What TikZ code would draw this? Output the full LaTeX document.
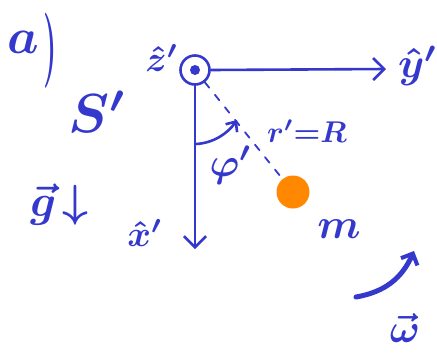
\documentclass[tikz,border=0pt]{standalone}
\usepackage{graphicx}
\usetikzlibrary{arrows.meta}
\definecolor{ink}{RGB}{52,56,204}
\definecolor{massor}{RGB}{255,136,0}
\newcommand\hw[2]{\scalebox{#1}{#2}}
\tikzset{
  pen/.style={draw=ink,line width=2.6pt,line cap=round,line join=round},
  axis/.style={pen,-{Straight Barb[length=11pt,width=22pt,line width=2.6pt]}},
  lbl/.style={text=ink,inner sep=0pt,font=\boldmath},
}
\begin{document}
\begin{tikzpicture}[x=1pt,y=-1pt]
\useasboundingbox (0,0) rectangle (437,360);
% origin with z-axis out of the page
\node[circle,pen,minimum size=29pt,inner sep=0pt] (O) at (195,70) {};
\fill[ink] (O.center) circle (5);
\coordinate (Y) at (386,69);
\coordinate (X) at (195,249);
\draw[axis] (O.east) -- (Y);
\draw[axis] (O.south) -- (X);
% mass
\node[circle,fill=massor,minimum size=33pt,inner sep=0pt] (M) at (293,192) {};
\draw[pen,line width=1.8pt,dash pattern=on 7pt off 9pt] (O) -- (M);
% angle arrow
\coordinate (A1) at (196,144);
\coordinate (A2) at (237,120);
\draw[pen,-{Straight Barb[length=8pt,width=14pt,line width=2.6pt]}] (A1) .. controls (214,143) and (228,133) .. (A2);
% rotation arrow
\coordinate (W1) at (356,297);
\coordinate (W2) at (414,251);
\draw[pen,line width=5pt,-{Straight Barb[length=9pt,width=18pt,line width=4pt]}] (W1) .. controls (385,292) and (402,278) .. (W2);
% labels
\node[lbl] (la) at (23,42) {\hw{5}{$a$}};
\node[lbl] (lp) at (50,51) {\scalebox{3}[7.5]{\bfseries )}};
\node[lbl] (lz) at (162,58) {\hw{3.6}{$\hat z'$}};
\node[lbl] (ly) at (418,66) {\hw{4.2}{$\hat y'$}};
\node[lbl] (lx) at (145,233) {\hw{3.6}{$\hat x'$}};
\node[lbl] (lr) at (307,131) {\hw{3}{$r'{=}R$}};
\node[lbl] (lphi) at (231,165) {\hw{4}{$\varphi'$}};
\node[lbl] (lm) at (339,229) {\hw{4.2}{$m$}};
\node[lbl] (lS) at (98,112) {\hw{5.5}{$S'$}};
\node[lbl] (lg) at (59,205) {\hw{4.5}{$\vec g\!\downarrow$}};
\node[lbl] (lw) at (405,328) {\hw{4}{$\vec\omega$}};
\end{tikzpicture}
\end{document}
